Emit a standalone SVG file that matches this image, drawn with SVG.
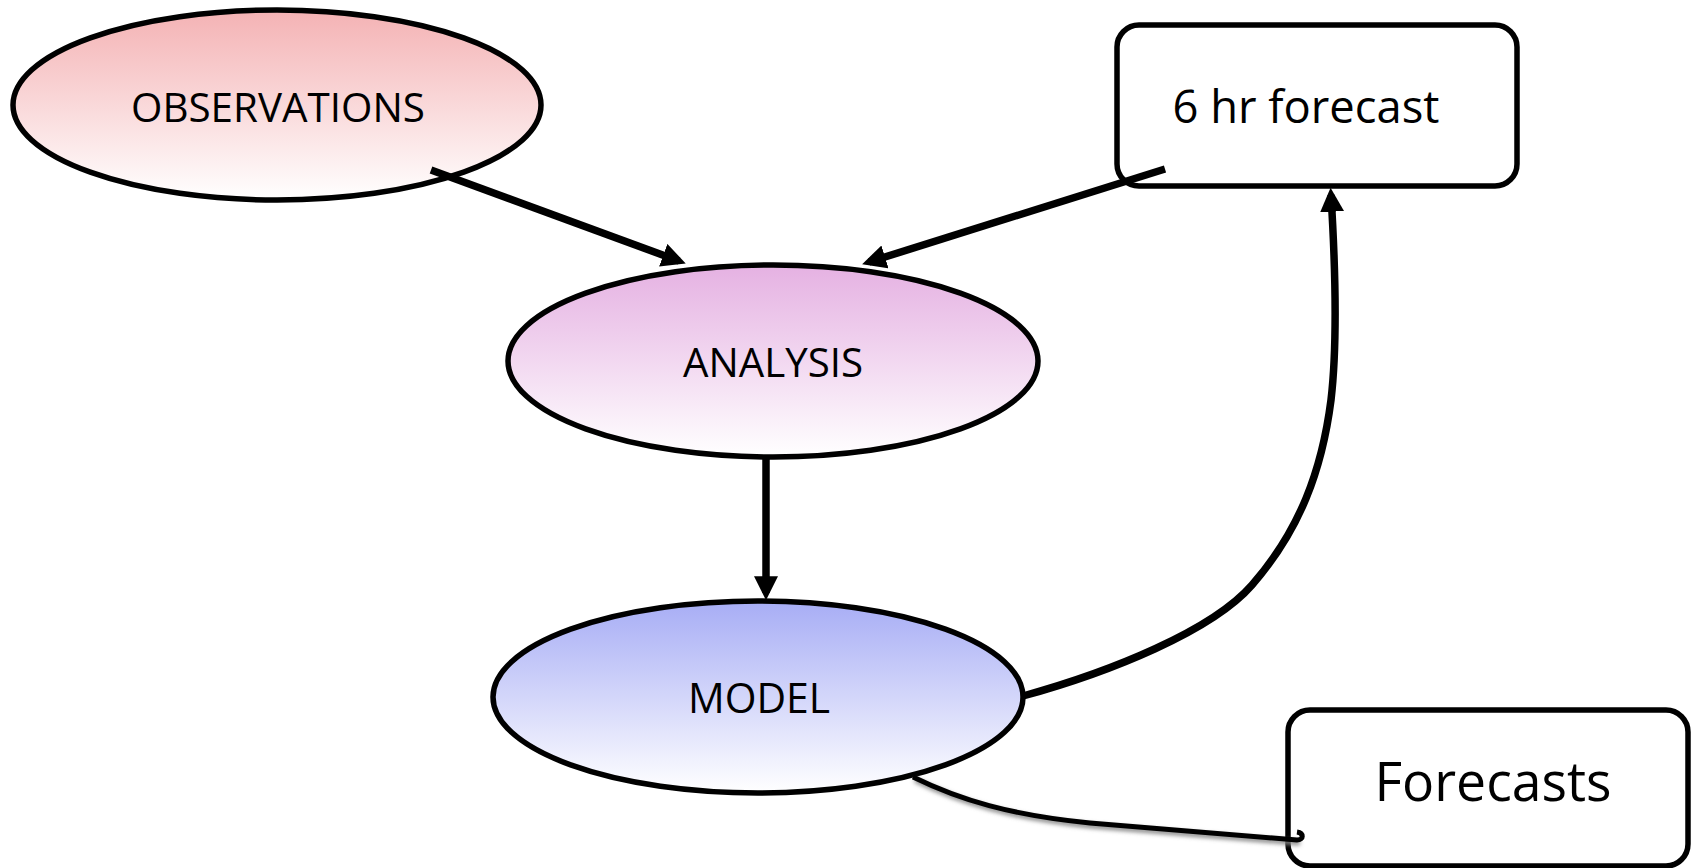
<svg xmlns="http://www.w3.org/2000/svg" width="1699" height="868" viewBox="0 0 1699 868">
<style>
.node{stroke:#000;stroke-width:5.5}
.box{fill:#fff;stroke:#000;stroke-width:5.5}
.lbl{font-family:"Open Sans","Liberation Sans",sans-serif;fill:#000;text-anchor:middle}
.conn{fill:none;stroke:#000;stroke-width:7.5}
</style>
<defs>
<linearGradient id="gObs" x1="0" y1="0" x2="0" y2="1">
<stop offset="0" stop-color="#F4B2B4"/><stop offset="1" stop-color="#FFFFFF"/>
</linearGradient>
<linearGradient id="gAna" x1="0" y1="0" x2="0" y2="1">
<stop offset="0" stop-color="#E5B1E2"/><stop offset="1" stop-color="#FFFFFF"/>
</linearGradient>
<linearGradient id="gMod" x1="0" y1="0" x2="0" y2="1">
<stop offset="0" stop-color="#A7ADF5"/><stop offset="1" stop-color="#FFFFFF"/>
</linearGradient>
<marker id="arr" viewBox="0 0 10 10" refX="7" refY="5" markerWidth="24" markerHeight="24" markerUnits="userSpaceOnUse" orient="auto">
<path d="M0,0 L10,5 L0,10 z" fill="#000"/>
</marker>
<filter id="sh" x="-10%" y="-50%" width="120%" height="200%">
<feGaussianBlur stdDeviation="2"/>
</filter>
</defs>
<g id="observations">
<ellipse class="node" cx="277" cy="105" rx="264" ry="95" fill="url(#gObs)"/>
<text class="lbl" x="278" y="122" font-size="41" textLength="294" lengthAdjust="spacingAndGlyphs">OBSERVATIONS</text>
</g>
<g id="forecast6hr">
<rect class="box" x="1117" y="25" width="400" height="161" rx="22"/>
<text class="lbl" x="1306" y="123" font-size="46" textLength="267" lengthAdjust="spacingAndGlyphs">6 hr forecast</text>
</g>
<g id="analysis">
<ellipse class="node" cx="773" cy="361" rx="265" ry="96" fill="url(#gAna)"/>
<text class="lbl" x="773" y="377" font-size="41" textLength="180" lengthAdjust="spacingAndGlyphs">ANALYSIS</text>
</g>
<g id="model">
<ellipse class="node" cx="758" cy="697" rx="265" ry="96" fill="url(#gMod)"/>
<text class="lbl" x="759" y="713" font-size="42" textLength="142" lengthAdjust="spacingAndGlyphs">MODEL</text>
</g>
<g id="forecasts">
<rect class="box" x="1288" y="710" width="400" height="156" rx="22"/>
<text class="lbl" x="1493" y="801" font-size="55" textLength="237" lengthAdjust="spacingAndGlyphs">Forecasts</text>
</g>
<g id="connectors">
<line class="conn" x1="431" y1="170" x2="679" y2="261" marker-end="url(#arr)"/>
<line class="conn" x1="1165" y1="169" x2="869" y2="262" marker-end="url(#arr)"/>
<line class="conn" x1="766" y1="459" x2="766" y2="593" marker-end="url(#arr)"/>
<path class="conn" d="M1023,696 C1110,672 1212,631 1252,585 C1300,530 1322,470 1331,400 C1338,340 1335,260 1331,195" marker-end="url(#arr)"/>
<path d="M915,780 C962,803 1012,818 1092,826 L1300,843" fill="none" stroke="#888" stroke-width="5" filter="url(#sh)"/>
<path d="M913,777 C960,800 1010,815 1090,823 L1297,840 C1304,840 1304,833 1297,832" fill="none" stroke="#000" stroke-width="5"/>
</g>
</svg>
